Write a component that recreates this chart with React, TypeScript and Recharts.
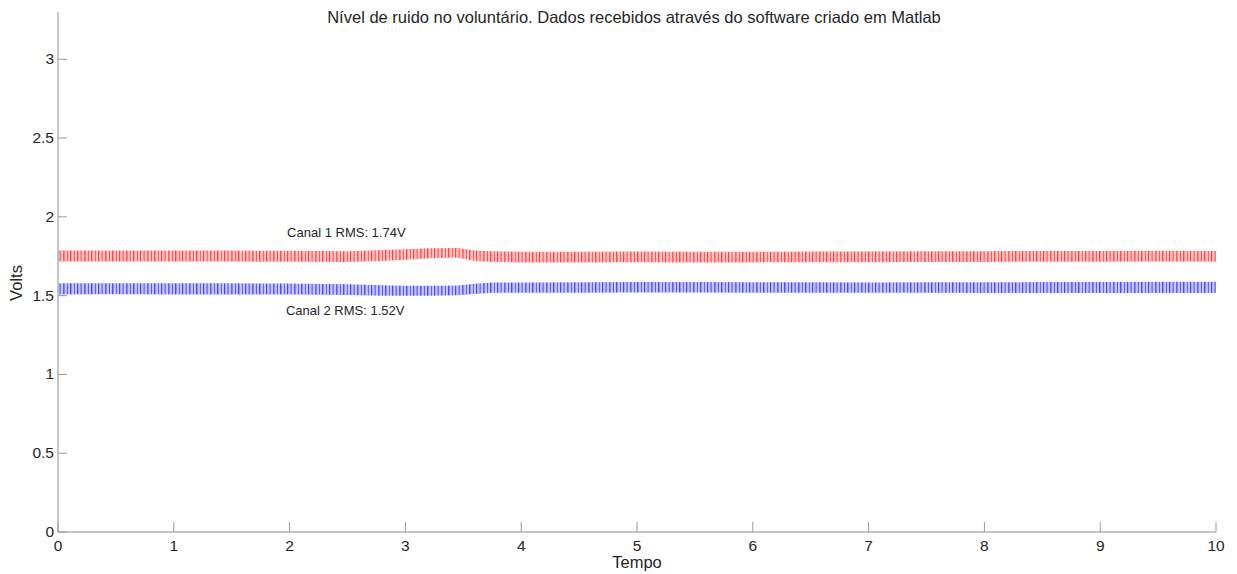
import React from 'react';
import { ComposedChart, Area, XAxis, YAxis, ReferenceDot, Label } from 'recharts';

const time = [0, 0.5, 1, 1.5, 2, 2.5, 2.8, 3.0, 3.2, 3.45, 3.6, 3.75, 4, 4.5, 5, 5.5, 6, 6.5, 7, 7.5, 8, 8.5, 9, 9.5, 10];
const canal1Low = [1.717, 1.716, 1.717, 1.716, 1.715, 1.713, 1.720, 1.728, 1.738, 1.742, 1.720, 1.713, 1.711, 1.711, 1.712, 1.711, 1.711, 1.712, 1.712, 1.713, 1.714, 1.715, 1.715, 1.716, 1.715];
const canal1High = [1.787, 1.786, 1.787, 1.786, 1.785, 1.782, 1.789, 1.795, 1.800, 1.802, 1.787, 1.781, 1.779, 1.779, 1.780, 1.779, 1.779, 1.780, 1.780, 1.781, 1.782, 1.784, 1.784, 1.785, 1.784];
const canal2Low = [1.508, 1.509, 1.508, 1.508, 1.508, 1.504, 1.500, 1.499, 1.500, 1.502, 1.510, 1.518, 1.518, 1.519, 1.520, 1.520, 1.519, 1.519, 1.518, 1.518, 1.517, 1.517, 1.516, 1.517, 1.516];
const canal2High = [1.578, 1.579, 1.578, 1.578, 1.577, 1.572, 1.566, 1.563, 1.563, 1.565, 1.575, 1.583, 1.584, 1.585, 1.586, 1.586, 1.585, 1.585, 1.584, 1.585, 1.585, 1.586, 1.587, 1.588, 1.588];

const xTicks = [0, 1, 2, 3, 4, 5, 6, 7, 8, 9, 10];
const yTicks = [0, 0.5, 1, 1.5, 2, 2.5, 3];

const title = 'Nível de ruido no voluntário. Dados recebidos através do software criado em Matlab';
const label1 = 'Canal 1 RMS: 1.74V';
const label2 = 'Canal 2 RMS: 1.52V';

const data = time.map((t, i) => ({
  t,
  c1: [canal1Low[i], canal1High[i]],
  c2: [canal2Low[i], canal2High[i]],
}));

const FONT = '"Liberation Sans", Arial, sans-serif';
const AXIS = '#b4b4b4';
const TICK = '#9a9a9a';
const TXT = '#262626';

const stripeX = [0.4, 3.9, 7.3, 10.9, 14.2, 17.6];
const stripeO = [0.85, 0.6, 0.9, 0.55, 0.8, 0.65];

const YTick = (props: any) => {
  const { x, y, payload } = props;
  return (
    <g>
      <line x1={x} y1={y} x2={x + 9} y2={y} stroke={TICK} strokeWidth={1} />
      <text x={x - 4} y={y + 5} textAnchor="end" fontSize={15.5} fontFamily={FONT} fill={TXT}>
        {String(payload.value)}
      </text>
    </g>
  );
};

const XTick = (props: any) => {
  const { x, y, payload } = props;
  return (
    <g>
      <line x1={x} y1={y} x2={x} y2={y - 10} stroke={TICK} strokeWidth={1} />
      <text x={x} y={y + 19} textAnchor="middle" fontSize={15.5} fontFamily={FONT} fill={TXT}>
        {String(payload.value)}
      </text>
    </g>
  );
};

const makePattern = (id: string, bg: string, fg: string) => (
  <pattern id={id} patternUnits="userSpaceOnUse" width="21" height="6">
    <rect x="0" y="0" width="21" height="6" fill={bg} />
    {stripeX.map((sx, i) => (
      <rect key={i} x={sx} y="0" width="1" height="6" fill={fg} fillOpacity={stripeO[i]} />
    ))}
  </pattern>
);

export default function App() {
  return (
    <div style={{ position: 'absolute', left: 0, top: 0, background: '#fff' }}>
      <ComposedChart
        width={1237}
        height={574}
        data={data}
        margin={{ top: 12, right: 21, left: 18, bottom: 12 }}
      >
        <defs>
          {makePattern('redStripes', 'rgba(255,60,60,0.3)', '#ff0000')}
          {makePattern('blueStripes', 'rgba(70,70,255,0.3)', '#0000ff')}
        </defs>
        <text x={634} y={23} textAnchor="middle" fontSize={16.5} fontFamily={FONT} fill={TXT}>
          {title}
        </text>
        <XAxis
          dataKey="t"
          type="number"
          domain={[0, 10]}
          ticks={xTicks}
          interval={0}
          height={30}
          tickSize={0}
          tickMargin={0}
          axisLine={{ stroke: AXIS, strokeWidth: 1.5 }}
          tickLine={false}
          tick={<XTick />}
        >
          <Label
            content={(p: any) => {
              const vb = p.viewBox;
              return (
                <text x={vb.x + vb.width / 2} y={568} textAnchor="middle" fontSize={16.5} fontFamily={FONT} fill={TXT}>
                  Tempo
                </text>
              );
            }}
          />
        </XAxis>
        <YAxis
          type="number"
          domain={[0, 3.3]}
          ticks={yTicks}
          interval={0}
          width={40}
          tickSize={0}
          tickMargin={0}
          axisLine={{ stroke: AXIS, strokeWidth: 1.5 }}
          tickLine={false}
          tick={<YTick />}
        >
          <Label
            content={() => {
              const cy = 283;
              return (
                <text x={22} y={cy} transform={`rotate(-90 22 ${cy})`} textAnchor="middle" fontSize={16.5} fontFamily={FONT} fill={TXT}>
                  Volts
                </text>
              );
            }}
          />
        </YAxis>
        <Area
          type="linear"
          dataKey="c1"
          stroke="none"
          fill="url(#redStripes)"
          fillOpacity={1}
          isAnimationActive={false}
          dot={false}
          activeDot={false}
        />
        <Area
          type="linear"
          dataKey="c2"
          stroke="none"
          fill="url(#blueStripes)"
          fillOpacity={1}
          isAnimationActive={false}
          dot={false}
          activeDot={false}
        />
        <ReferenceDot x={2.49} y={1.9} r={0} stroke="none" fill="none" ifOverflow="visible">
          <Label
            content={(p: any) => {
              const vb = p.viewBox;
              return (
                <text x={vb.x + vb.width / 2} y={vb.y + vb.height / 2 + 4} textAnchor="middle" fontSize={13} fontFamily={FONT} fill={TXT}>
                  {label1}
                </text>
              );
            }}
          />
        </ReferenceDot>
        <ReferenceDot x={2.48} y={1.4} r={0} stroke="none" fill="none" ifOverflow="visible">
          <Label
            content={(p: any) => {
              const vb = p.viewBox;
              return (
                <text x={vb.x + vb.width / 2} y={vb.y + vb.height / 2 + 4} textAnchor="middle" fontSize={13} fontFamily={FONT} fill={TXT}>
                  {label2}
                </text>
              );
            }}
          />
        </ReferenceDot>
      </ComposedChart>
    </div>
  );
}
